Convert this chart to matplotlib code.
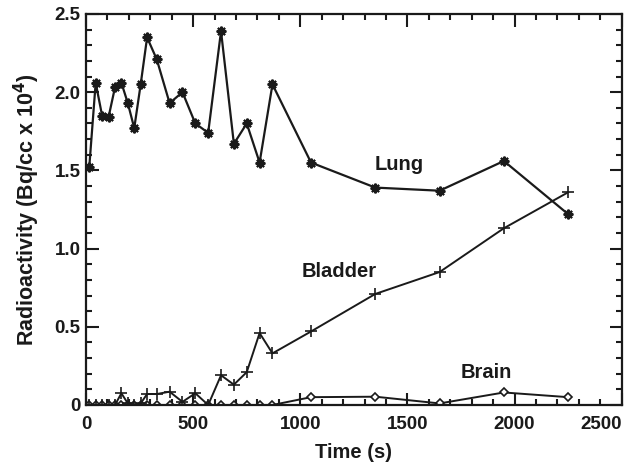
import matplotlib
matplotlib.use("Agg")
import matplotlib.pyplot as plt
from matplotlib.ticker import MultipleLocator, FuncFormatter

plt.rcParams['font.family'] = ['Liberation Sans', 'DejaVu Sans']

time_s = [15, 45, 75, 105, 135, 165, 195, 225, 255, 285, 330, 390, 450, 510, 570,
          630, 690, 750, 810, 870, 1050, 1350, 1650, 1950, 2250]
lung = [1.52, 2.06, 1.85, 1.84, 2.03, 2.06, 1.93, 1.77, 2.05, 2.35, 2.21, 1.93, 2.00,
        1.80, 1.74, 2.39, 1.67, 1.80, 1.55, 2.05, 1.55, 1.39, 1.37, 1.56, 1.22]
bladder = [0.0, 0.0, 0.0, 0.0, 0.0, 0.075, 0.01, 0.0, 0.01, 0.07, 0.07, 0.085, 0.02,
           0.075, 0.0, 0.19, 0.13, 0.21, 0.46, 0.33, 0.47, 0.71, 0.85, 1.13, 1.36]
brain = [0.0, 0.0, 0.0, 0.0, 0.0, 0.0, 0.0, 0.0, 0.0, 0.0, 0.0, 0.0, 0.0,
         0.0, 0.0, 0.0, 0.0, 0.0, 0.0, 0.0, 0.05, 0.053, 0.01, 0.08, 0.05]

labels = [("Lung", 1460, 1.50), ("Bladder", 1182, 0.82), ("Brain", 1866, 0.17)]

fig = plt.figure(figsize=(6.28, 4.63), dpi=100)
ax = fig.add_axes([0.137, 0.1253, 0.853, 0.8445])

lc = '#1a1a1a'
ax.plot(time_s, brain, color=lc, lw=1.4, marker='D', ms=4.5, mfc='white', mec=lc, mew=1.2)
ax.plot(time_s, bladder, color=lc, lw=1.4, marker='+', ms=9, mew=1.2)
ax.plot(time_s, lung, color=lc, lw=1.6, marker=(8, 2, 0), ms=7, mew=1.5)

for txt, x, y in labels:
    ax.text(x, y, txt, ha='center', va='baseline', fontsize=14.5, fontweight='bold', color=lc)

ax.set_xlim(0, 2500)
ax.set_ylim(0, 2.5)
ax.xaxis.set_major_locator(MultipleLocator(500))
ax.xaxis.set_minor_locator(MultipleLocator(100))
ax.yaxis.set_major_locator(MultipleLocator(0.5))
ax.yaxis.set_minor_locator(MultipleLocator(0.1))
ax.yaxis.set_major_formatter(FuncFormatter(lambda v, p: "0" if abs(v) < 1e-9 else f"{v:.1f}"))

ax.tick_params(which='both', direction='in', top=True, right=True, width=1.5, color=lc,
               labelsize=13.5, labelcolor=lc)
ax.tick_params(which='major', length=9)
ax.tick_params(which='minor', length=4.5)
ax.tick_params(axis='x', which='major', pad=8)
ax.tick_params(axis='y', which='major', pad=4)
for lab in ax.get_xticklabels() + ax.get_yticklabels():
    lab.set_fontweight('bold')
xl = ax.get_xticklabels()
for lab in xl:
    if lab.get_text() == '2500':
        lab.set_horizontalalignment('right')
for s in ax.spines.values():
    s.set_linewidth(1.6)
    s.set_color(lc)

ax.set_xlabel("Time (s)", fontsize=14.5, fontweight='bold', color=lc, labelpad=7)
ax.set_ylabel("Radioactivity (Bq/cc x 10$^{\\mathbf{4}}$)", fontsize=15.5, fontweight='bold',
              color=lc, labelpad=9)

fig.savefig("out.png", dpi=100)
